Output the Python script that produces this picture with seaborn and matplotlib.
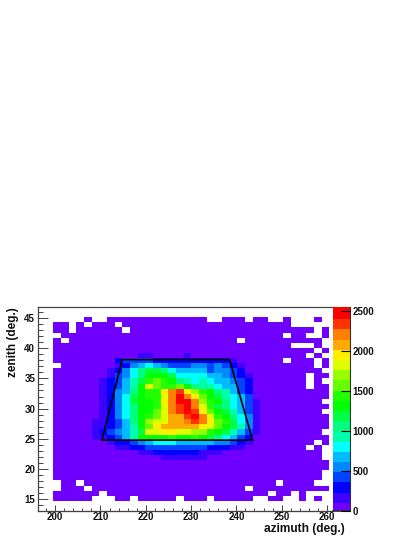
import numpy as np
import pandas as pd
import matplotlib
matplotlib.use('Agg')
import matplotlib.pyplot as plt
from matplotlib.colors import ListedColormap
import seaborn as sns

# colour level per bin ('.' = empty bin), top row first
level_rows = [
    "....0..0000000000000..000.00..0...0.",
    "00.0.000.0000000000000000000000.....",
    "00.000000.000000000000000000000000.0",
    ".00000000000000000000000000000.00..0",
    "0.0000000000000000000000.0000000000.",
    "0000000000000000000000000000000...0.",
    "0000000000000000000000000000000000.0",
    "000000000001100001000000000000000.0.",
    "000000002333322222222221000000.000.0",
    ".000000012456543334434321000000000.0",
    "00000001246899865555344320000000000.",
    "000000013468aaa966665543210000000.00",
    "000000123579bcba87676554320000000.0.",
    "00000012357aecbbca877655320000000.00",
    "00000012458abbfhifdba875320000000000",
    "00000012469abbehjhfca976530000000000",
    "00000012469aabfhjjhdba8653100000000.",
    "00000012468aabehijheb986531000000000",
    "00000012468aacehijifca9753100000000.",
    "00000012468abceggijheba8641000000000",
    "00000112358adeegghihfcb9641000000000",
    "00000112357acfgggggfeca9741000000000",
    "000001234579eeffeeddba97531" + "00000000.",
    "00000112357aaaabaaba9865320000000000",
    "00000001223456665555544321" + "00000000.0",
    "0000000011223333333322211" + "00000000.0.",
    "0000000000011222222111" + "0000000000000.",
    "00000000000000111111" + "000000000000000.",
    "000000000000000000000000000000000000",
    "000000000000000000000000000000000000",
    "00000000000000000000000000000000000.",
    "00000000000000000000000000000000000.",
    ".00.0000000000000000000000000.0000..",
    ".000.00000000000000000000.0000000000",
    "000000.000000000000000000000.00.0...",
    "00000...00.00000.000.00000..00..0.0.",
]

palette = ['#6f00ff', '#3c00ff', '#0000ff', '#0044ff', '#0088ff', '#00bbff', '#00ffff',
           '#00ffaa', '#00ff80', '#00ff44', '#00ff00', '#22ff00', '#66ff00', '#99ff00',
           '#ddff00', '#ffee00', '#ffaa00', '#ff7f00', '#ff3300', '#ff0000']
level_chars = '0123456789abcdefghij'

az_min, az_step = 196.2, 1.693
zen_max, zen_step = 46.8, 0.843
n_cols, n_rows = 39, 40
count_max = 2550

trap_az = [210.3, 214.8, 238.5, 243.6, 210.3]
trap_zen = [24.8, 38.1, 38.1, 24.8, 24.8]

x_major = [200, 210, 220, 230, 240, 250, 260]
x_minor = list(range(198, 262, 2))
y_major = [15, 20, 25, 30, 35, 40, 45]
y_minor = list(range(14, 47))
cbar_ticks = [0, 500, 1000, 1500, 2000, 2500]


def az_pos(a):
    return (np.asarray(a, dtype=float) - az_min) / az_step


def zen_pos(z):
    return (zen_max - np.asarray(z, dtype=float)) / zen_step


# level midpoints as counts, the binned block sits 2 bins in from the top/left
grid = np.full((n_rows, n_cols), np.nan)
for i, row in enumerate(level_rows):
    assert len(row) == 36, (i, len(row))
    for j, c in enumerate(row):
        if c != '.':
            grid[i + 2, j + 2] = (level_chars.index(c) + 0.5) * count_max / len(palette)
df = pd.DataFrame(grid)

sns.set_theme(style='white')
plt.rcParams['font.family'] = ['Liberation Sans', 'DejaVu Sans']
plt.rcParams['font.weight'] = 'bold'

W, H = 415, 537
fig = plt.figure(figsize=(W / 100, H / 100), dpi=100)
ax = fig.add_axes([38 / W, 1 - 510.5 / H, 295 / W, 203.5 / H])
cax = fig.add_axes([333 / W, 1 - 511 / H, 17 / W, 204 / H])

sns.heatmap(df, ax=ax, cbar_ax=cax, cmap=ListedColormap(palette), vmin=0, vmax=count_max,
            xticklabels=False, yticklabels=False)
ax.set_xlim(0, 295 / 7.667)
ax.set_ylim(203.5 / 5.1, 0)
ax.set_axisbelow(False)
cax.set_axisbelow(False)

ax.plot(az_pos(trap_az), zen_pos(trap_zen), color='black', lw=1.2, solid_joinstyle='miter')

for s in ax.spines.values():
    s.set_visible(True)
    s.set_color('#444444')
    s.set_linewidth(0.9)
ax.spines['right'].set_visible(False)
ax.plot([0, 1], [-0.004, -0.004], color='#f04040', lw=0.8, transform=ax.transAxes, clip_on=False)

ax.set_xticks(az_pos(x_major))
ax.set_xticklabels(x_major)
ax.set_xticks(az_pos(x_minor), minor=True)
ax.set_yticks(zen_pos(y_major))
ax.set_yticklabels(y_major, rotation=0)
ax.set_yticks(zen_pos(y_minor), minor=True)
ax.tick_params(axis='x', which='major', direction='in', bottom=True, length=4, width=0.7, color='#444444',
               labelsize=7, pad=1.2, labelcolor='#111111')
ax.tick_params(axis='x', which='minor', direction='in', bottom=True, length=2, width=0.7, color='#444444')
ax.tick_params(axis='y', which='major', direction='in', left=True, length=7.5, width=0.7, color='#444444',
               labelsize=7, pad=2, labelcolor='#111111')
ax.tick_params(axis='y', which='minor', direction='in', left=True, length=3.7, width=0.7, color='#444444')

fig.text(345 / W, 1 - 529 / H, 'azimuth (deg.)', ha='right', va='center', fontsize=8.6,
         fontweight='bold', color='#111111')
fig.text(13 / W, 1 - 307 / H, 'zenith (deg.)', ha='center', va='top', rotation=90, fontsize=8.5,
         fontweight='bold', color='#111111')

cax.set_yticks(cbar_ticks)
cax.set_yticklabels(cbar_ticks)
cax.tick_params(axis='y', direction='in', length=6.5, width=0.8, color='black', labelsize=7,
                pad=2, labelcolor='#111111', right=True, left=False)
for s in cax.collections:
    s.set_edgecolor('face')
for s in cax.spines.values():
    s.set_visible(False)
cax.spines['right'].set_visible(True)
cax.spines['right'].set_color('#333333')
cax.spines['right'].set_linewidth(0.8)
cax.spines['bottom'].set_visible(True)
cax.spines['bottom'].set_color('#333333')

fig.savefig('out.png', dpi=100)
plt.close(fig)
